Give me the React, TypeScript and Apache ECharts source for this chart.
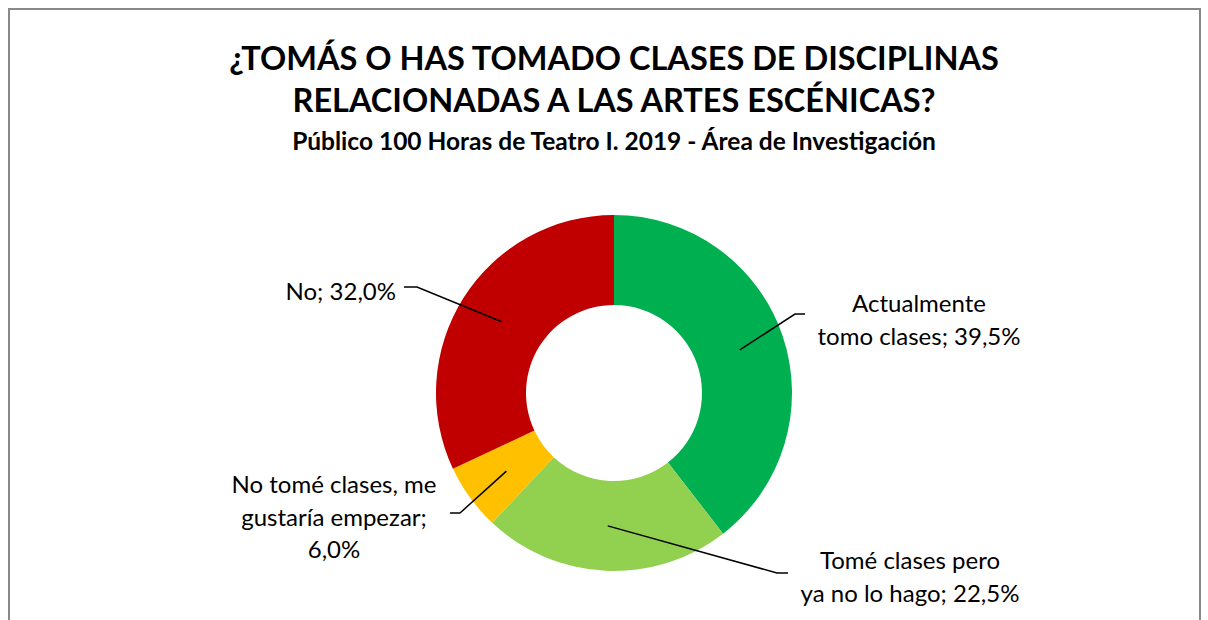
import React, { useEffect, useRef } from "react";
import * as echarts from "echarts";

const categories = [
  "Actualmente\ntomo clases",
  "Tomé clases pero\nya no lo hago",
  "No tomé clases, me\ngustaría empezar;\n",
  "No",
];
const values = [39.5, 22.5, 6.0, 32.0];
const colors = ["#00B050", "#92D050", "#FFC000", "#C00000"];
const titleLines = [
  "¿TOMÁS O HAS TOMADO CLASES DE DISCIPLINAS",
  "RELACIONADAS A LAS ARTES ESCÉNICAS?",
];
const subtitle = "Público 100 Horas de Teatro I. 2019 - Área de Investigación";

const CX = 614;
const CY = 393;
const R_IN = 88;
const R_OUT = 178;
const FONT = "Lato";

// label placement (layout only): text anchor + elbow/end of leader line
const labelPlacement = [
  { x: 919, y: 319, align: "center", elbow: [795, 314], end: [805, 314] },
  { x: 910, y: 576, align: "center", elbow: [777, 573], end: [788, 573] },
  { x: 334, y: 516, align: "center", elbow: [460, 513], end: [450, 513] },
  { x: 396, y: 290, align: "right", elbow: [417, 287], end: [404, 287] },
];

function fmt(v: number) {
  return v.toFixed(1).replace(".", ",") + "%";
}

export default function App() {
  const ref = useRef<HTMLDivElement>(null);
  useEffect(() => {
    if (!ref.current) return;
    const chart = echarts.init(ref.current, null, { renderer: "svg" });
    const total = values.reduce((a, b) => a + b, 0);
    const midAngles: number[] = [];
    let acc = 0;
    values.forEach((v) => {
      midAngles.push(((acc + v / 2) / total) * Math.PI * 2);
      acc += v;
    });
    const rMid = (R_IN + R_OUT) / 2;

    const titleStyle = {
      fontFamily: FONT,
      fontWeight: "bold",
      fontSize: 32.5,
      fill: "#000",
      textAlign: "center",
      textVerticalAlign: "middle",
    };

    chart.setOption({
      animation: false,
      backgroundColor: "#ffffff",
      graphic: [
        {
          type: "rect",
          shape: { x: 9, y: 9, width: 1191, height: 700 },
          style: { fill: "none", stroke: "#898989", lineWidth: 2 },
          silent: true,
        },
        { type: "text", x: 614, y: 57, style: { ...titleStyle, text: titleLines[0] } },
        { type: "text", x: 614, y: 99, style: { ...titleStyle, text: titleLines[1] } },
        {
          type: "text",
          x: 614,
          y: 140,
          style: { ...titleStyle, text: subtitle, fontSize: 24.5 },
        },
      ],
      series: [
        {
          type: "pie",
          z: 2,
          center: [CX, CY],
          radius: [R_IN, R_OUT],
          startAngle: 90,
          clockwise: true,
          silent: true,
          data: categories.map((name, i) => ({
            name,
            value: values[i],
            itemStyle: { color: colors[i] },
          })),
          label: { show: false },
          labelLine: { show: false },
        },
        {
          type: "pie",
          z: 3,
          center: [CX, CY],
          radius: [R_IN, R_OUT],
          startAngle: 90,
          clockwise: true,
          silent: true,
          avoidLabelOverlap: false,
          data: categories.map((name, i) => ({
            name,
            value: values[i],
            itemStyle: { color: "rgba(0,0,0,0)" },
          })),
          label: {
            show: true,
            position: "outside",
            formatter: (p: any) => {
              const n = p.name as string;
              const sep = n.endsWith("\n") ? "" : "; ";
              return n + sep + fmt(p.value);
            },
            fontFamily: FONT,
            fontSize: 24,
            lineHeight: 32.5,
            color: "#000",
          },
          labelLine: {
            show: true,
            lineStyle: { color: "#000", width: 1.5 },
          },
          labelLayout: (params: any) => {
            const i = params.dataIndex;
            const pl = labelPlacement[i];
            const a = midAngles[i];
            const sx = CX + Math.sin(a) * rMid;
            const sy = CY - Math.cos(a) * rMid;
            return {
              x: pl.x,
              y: pl.y,
              align: pl.align,
              verticalAlign: "middle",
              labelLinePoints: [[sx, sy], pl.elbow, pl.end],
            };
          },
        },
      ],
    });
    return () => chart.dispose();
  }, []);
  return (
    <div
      ref={ref}
      style={{ position: "absolute", left: 0, top: 0, width: 1208, height: 620 }}
    />
  );
}
